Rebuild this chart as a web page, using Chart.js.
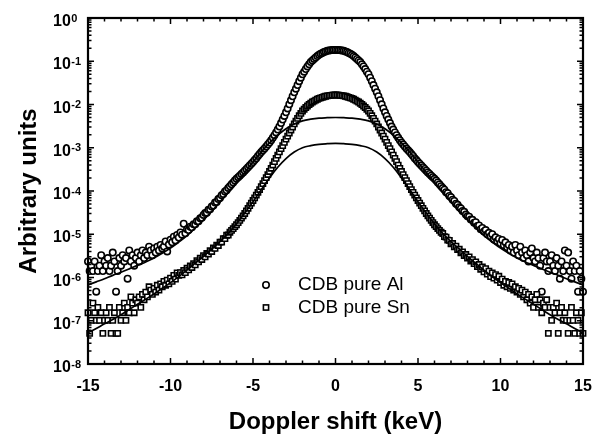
<!DOCTYPE html>
<html>
<head>
<meta charset="utf-8">
<script src="https://cdn.jsdelivr.net/npm/chart.js@4.4.1/dist/chart.umd.min.js"></script>
<style>
html,body{margin:0;padding:0;background:#fff;}
#wrap{width:600px;height:437px;position:relative;}
</style>
</head>
<body>
<div id="wrap"><canvas id="c" width="600" height="437"></canvas></div>
<script>
// ---- data ----
const energies = [
-15,-14.9,-14.8,-14.7,-14.6,-14.5,-14.4,-14.3,-14.2,-14.1,
-14,-13.9,-13.8,-13.7,-13.6,-13.5,-13.4,-13.3,-13.2,-13.1,
-13,-12.9,-12.8,-12.7,-12.6,-12.5,-12.4,-12.3,-12.2,-12.1,
-12,-11.9,-11.8,-11.7,-11.6,-11.5,-11.4,-11.3,-11.2,-11.1,
-11,-10.9,-10.8,-10.7,-10.6,-10.5,-10.4,-10.3,-10.2,-10.1,
-10,-9.9,-9.8,-9.7,-9.6,-9.5,-9.4,-9.3,-9.2,-9.1,
-9,-8.9,-8.8,-8.7,-8.6,-8.5,-8.4,-8.3,-8.2,-8.1,
-8,-7.9,-7.8,-7.7,-7.6,-7.5,-7.4,-7.3,-7.2,-7.1,
-7,-6.9,-6.8,-6.7,-6.6,-6.5,-6.4,-6.3,-6.2,-6.1,
-6,-5.9,-5.8,-5.7,-5.6,-5.5,-5.4,-5.3,-5.2,-5.1,
-5,-4.9,-4.8,-4.7,-4.6,-4.5,-4.4,-4.3,-4.2,-4.1,
-4,-3.9,-3.8,-3.7,-3.6,-3.5,-3.4,-3.3,-3.2,-3.1,
-3,-2.9,-2.8,-2.7,-2.6,-2.5,-2.4,-2.3,-2.2,-2.1,
-2,-1.9,-1.8,-1.7,-1.6,-1.5,-1.4,-1.3,-1.2,-1.1,
-1,-0.9,-0.8,-0.7,-0.6,-0.5,-0.4,-0.3,-0.2,-0.1,
0,0.1,0.2,0.3,0.4,0.5,0.6,0.7,0.8,0.9,
1,1.1,1.2,1.3,1.4,1.5,1.6,1.7,1.8,1.9,
2,2.1,2.2,2.3,2.4,2.5,2.6,2.7,2.8,2.9,
3,3.1,3.2,3.3,3.4,3.5,3.6,3.7,3.8,3.9,
4,4.1,4.2,4.3,4.4,4.5,4.6,4.7,4.8,4.9,
5,5.1,5.2,5.3,5.4,5.5,5.6,5.7,5.8,5.9,
6,6.1,6.2,6.3,6.4,6.5,6.6,6.7,6.8,6.9,
7,7.1,7.2,7.3,7.4,7.5,7.6,7.7,7.8,7.9,
8,8.1,8.2,8.3,8.4,8.5,8.6,8.7,8.8,8.9,
9,9.1,9.2,9.3,9.4,9.5,9.6,9.7,9.8,9.9,
10,10.1,10.2,10.3,10.4,10.5,10.6,10.7,10.8,10.9,
11,11.1,11.2,11.3,11.4,11.5,11.6,11.7,11.8,11.9,
12,12.1,12.2,12.3,12.4,12.5,12.6,12.7,12.8,12.9,
13,13.1,13.2,13.3,13.4,13.5,13.6,13.7,13.8,13.9,
14,14.1,14.2,14.3,14.4,14.5,14.6,14.7,14.8,14.9,
15];

const cdbAl = [
2.35e-6,1.41e-6,1.88e-6,1.41e-6,2.35e-6,4.7e-7,1.41e-6,1.88e-6,3.29e-6,1.41e-6,
2.35e-6,1.88e-6,2.82e-6,1.41e-6,1.88e-6,3.76e-6,2.35e-6,4.7e-7,1.41e-6,2.82e-6,
1.88e-6,3.29e-6,2.35e-6,2.82e-6,9.4e-7,4.23e-6,2.35e-6,3.29e-6,1.88e-6,2.82e-6,
3.76e-6,2.35e-6,3.29e-6,4.23e-6,2.82e-6,3.76e-6,3.29e-6,5.17e-6,4.23e-6,3.29e-6,
4.7e-6,3.76e-6,5.17e-6,4.23e-6,5.64e-6,4.7e-6,5.2e-6,6.8e-6,4.0e-6,5.8e-6,
7.5e-6,6.5e-6,8.8e-6,7.2e-6,9.6e-6,8.4e-6,1.1e-5,9.8e-6,1.75e-5,1.05e-5,
1.3e-5,1.25e-5,1.5e-5,1.45e-5,1.7e-5,1.7e-5,2.0e-5,2.0e-5,2.35e-5,2.4e-5,
2.8e-5,3.1e-5,3.15e-5,3.7e-5,3.8e-5,4.4e-5,4.6e-5,5.4e-5,5.6e-5,6.5e-5,
6.9e-5,8.0e-5,8.5e-5,9.7e-5,1.04e-4,1.18e-4,1.28e-4,1.43e-4,1.58e-4,1.74e-4,
1.91e-4,2.09e-4,2.26e-4,2.48e-4,2.69e-4,2.95e-4,3.24e-4,3.55e-4,3.89e-4,4.27e-4,
4.68e-4,5.19e-4,5.75e-4,6.46e-4,7.16e-4,7.94e-4,8.71e-4,9.66e-4,1.07e-3,1.19e-3,
1.32e-3,1.50e-3,1.70e-3,1.95e-3,2.26e-3,2.63e-3,3.09e-3,3.72e-3,4.47e-3,5.43e-3,
6.61e-3,8.13e-3,1.01e-2,1.26e-2,1.55e-2,1.91e-2,2.32e-2,2.82e-2,3.47e-2,4.17e-2,
5.01e-2,5.75e-2,6.61e-2,7.59e-2,8.51e-2,9.55e-2,1.04e-1,1.13e-1,1.22e-1,1.32e-1,
1.41e-1,1.49e-1,1.56e-1,1.63e-1,1.69e-1,1.74e-1,1.77e-1,1.79e-1,1.81e-1,1.82e-1,
1.82e-1,1.82e-1,1.81e-1,1.79e-1,1.77e-1,1.74e-1,1.69e-1,1.63e-1,1.56e-1,1.49e-1,
1.41e-1,1.32e-1,1.22e-1,1.13e-1,1.04e-1,9.55e-2,8.51e-2,7.59e-2,6.61e-2,5.75e-2,
5.01e-2,4.17e-2,3.47e-2,2.82e-2,2.32e-2,1.91e-2,1.55e-2,1.26e-2,1.01e-2,8.13e-3,
6.61e-3,5.43e-3,4.47e-3,3.72e-3,3.09e-3,2.63e-3,2.26e-3,1.95e-3,1.70e-3,1.50e-3,
1.32e-3,1.19e-3,1.07e-3,9.66e-4,8.71e-4,7.94e-4,7.16e-4,6.46e-4,5.75e-4,5.19e-4,
4.68e-4,4.27e-4,3.89e-4,3.55e-4,3.24e-4,2.95e-4,2.69e-4,2.48e-4,2.26e-4,2.09e-4,
1.91e-4,1.74e-4,1.58e-4,1.43e-4,1.29e-4,1.17e-4,1.07e-4,9.4e-5,8.9e-5,7.7e-5,
7.2e-5,6.3e-5,5.9e-5,5.1e-5,4.8e-5,4.2e-5,3.95e-5,3.45e-5,3.3e-5,2.85e-5,
2.6e-5,2.55e-5,2.2e-5,2.15e-5,1.85e-5,1.9e-5,1.55e-5,1.6e-5,1.3e-5,1.4e-5,
1.15e-5,1.25e-5,1.0e-5,1.08e-5,9.0e-6,1.0e-5,7.6e-6,8.5e-6,6.9e-6,7.8e-6,
6.2e-6,7.4e-6,5.6e-6,6.5e-6,5.0e-6,5.64e-6,4.23e-6,5.17e-6,3.76e-6,5.64e-6,
4.23e-6,3.29e-6,5.17e-6,3.76e-6,2.82e-6,4.23e-6,3.29e-6,2.35e-6,3.76e-6,4.7e-6,
2.82e-6,2.35e-6,3.76e-6,2.82e-6,1.88e-6,4.7e-7,2.82e-6,3.76e-6,2.35e-6,1.41e-6,
2.35e-6,3.29e-6,1.88e-6,1.41e-6,2.82e-6,1.88e-6,9.4e-7,2.35e-6,1.41e-6,4.23e-6,
1.88e-6,3.76e-6,1.41e-6,9.4e-7,2.35e-6,1.41e-6,1.88e-6,4.7e-7,1.41e-6,9.4e-7,
4.7e-7];

const cdbSn = [
1.53e-7,5.1e-8,1.02e-7,2.55e-7,1.53e-7,1.02e-7,2.04e-7,1.02e-7,1.53e-7,5.1e-8,
1.02e-7,1.53e-7,1.02e-7,2.04e-7,5.1e-8,1.02e-7,1.53e-7,5.1e-8,5.1e-8,2.04e-7,
1.02e-7,1.53e-7,2.55e-7,1.02e-7,2.04e-7,1.53e-7,3.57e-7,2.55e-7,1.53e-7,3.06e-7,
2.55e-7,3.57e-7,2.04e-7,4.08e-7,3.06e-7,4.59e-7,3.57e-7,6.12e-7,5.1e-7,4.08e-7,
5.61e-7,4.59e-7,6.63e-7,5.1e-7,7.14e-7,6.12e-7,8.16e-7,6.63e-7,8.67e-7,7.14e-7,
9.69e-7,8.16e-7,1.12e-6,9.18e-7,1.28e-6,1.12e-6,1.3e-6,1.15e-6,1.45e-6,1.3e-6,
1.65e-6,1.5e-6,1.85e-6,1.7e-6,2.1e-6,1.95e-6,2.45e-6,2.3e-6,2.8e-6,2.6e-6,
3.2e-6,3.0e-6,3.6e-6,3.5e-6,4.2e-6,4.0e-6,4.8e-6,4.7e-6,5.6e-6,5.5e-6,
6.6e-6,6.6e-6,7.9e-6,7.9e-6,9.5e-6,9.6e-6,1.11e-5,1.23e-5,1.35e-5,1.50e-5,
1.66e-5,1.86e-5,2.09e-5,2.37e-5,2.66e-5,3.02e-5,3.47e-5,3.98e-5,4.57e-5,5.25e-5,
6.03e-5,6.92e-5,8.04e-5,9.33e-5,1.08e-4,1.26e-4,1.48e-4,1.74e-4,2.04e-4,2.40e-4,
2.82e-4,3.35e-4,3.98e-4,4.79e-4,5.69e-4,6.76e-4,8.04e-4,9.55e-4,1.12e-3,1.33e-3,
1.58e-3,1.86e-3,2.19e-3,2.57e-3,3.02e-3,3.55e-3,4.12e-3,4.79e-3,5.50e-3,6.24e-3,
7.08e-3,7.76e-3,8.51e-3,9.23e-3,1.00e-2,1.07e-2,1.14e-2,1.20e-2,1.26e-2,1.32e-2,
1.38e-2,1.42e-2,1.46e-2,1.51e-2,1.55e-2,1.58e-2,1.61e-2,1.63e-2,1.65e-2,1.66e-2,
1.66e-2,1.66e-2,1.65e-2,1.63e-2,1.61e-2,1.58e-2,1.55e-2,1.51e-2,1.46e-2,1.42e-2,
1.38e-2,1.32e-2,1.26e-2,1.20e-2,1.14e-2,1.07e-2,1.00e-2,9.23e-3,8.51e-3,7.76e-3,
7.08e-3,6.24e-3,5.50e-3,4.79e-3,4.12e-3,3.55e-3,3.02e-3,2.57e-3,2.19e-3,1.86e-3,
1.58e-3,1.33e-3,1.12e-3,9.55e-4,8.04e-4,6.76e-4,5.69e-4,4.79e-4,3.98e-4,3.35e-4,
2.82e-4,2.40e-4,2.04e-4,1.74e-4,1.48e-4,1.26e-4,1.08e-4,9.33e-5,8.04e-5,6.92e-5,
6.03e-5,5.25e-5,4.57e-5,3.98e-5,3.47e-5,3.02e-5,2.66e-5,2.37e-5,2.09e-5,1.86e-5,
1.66e-5,1.50e-5,1.35e-5,1.23e-5,1.11e-5,1.04e-5,8.8e-6,8.6e-6,7.3e-6,7.2e-6,
6.0e-6,6.1e-6,5.1e-6,5.3e-6,4.4e-6,4.5e-6,3.7e-6,3.9e-6,3.2e-6,3.4e-6,
2.8e-6,3.0e-6,2.4e-6,2.6e-6,2.1e-6,2.3e-6,1.8e-6,2.0e-6,1.55e-6,1.75e-6,
1.35e-6,1.6e-6,1.2e-6,1.4e-6,1.05e-6,1.28e-6,9.69e-7,1.17e-6,8.67e-7,1.07e-6,
7.65e-7,9.18e-7,6.63e-7,8.16e-7,6.12e-7,7.65e-7,5.61e-7,7.14e-7,5.1e-7,6.12e-7,
4.59e-7,5.61e-7,4.08e-7,5.1e-7,3.57e-7,4.59e-7,3.06e-7,4.08e-7,2.55e-7,3.57e-7,
2.04e-7,3.06e-7,4.08e-7,2.04e-7,3.06e-7,1.53e-7,2.55e-7,2.04e-7,3.06e-7,5.1e-8,
2.04e-7,1.02e-7,2.04e-7,1.53e-7,2.55e-7,5.1e-8,1.53e-7,2.04e-7,1.02e-7,1.53e-7,
1.02e-7,5.1e-8,1.02e-7,2.04e-7,1.02e-7,5.1e-8,1.53e-7,1.02e-7,5.1e-8,1.53e-7,
5.1e-8];

const fitEnergies = [
-15,-14.5,-14,-13.5,-13,-12.5,-12,-11.5,-11,-10.5,-10,-9.5,-9,-8.5,-8,-7.5,
-7,-6.5,-6,-5.5,-5,-4.5,-4,-3.5,-3,-2.5,-2,-1.5,-1,-0.5,0,
0.5,1,1.5,2,2.5,3,3.5,4,4.5,5,5.5,6,6.5,7,7.5,8,8.5,9,9.5,10,10.5,11,11.5,12,12.5,13,13.5,14,14.5,15];

const fitUpper = [
6.76e-7,7.94e-7,9.33e-7,1.12e-6,1.32e-6,1.58e-6,1.91e-6,2.29e-6,2.82e-6,3.63e-6,
4.79e-6,6.61e-6,9.33e-6,1.41e-5,2.14e-5,3.39e-5,5.62e-5,9.33e-5,1.58e-4,2.69e-4,
4.68e-4,7.94e-4,1.29e-3,1.95e-3,2.75e-3,3.55e-3,4.17e-3,4.57e-3,4.84e-3,4.95e-3,5.01e-3,
4.95e-3,4.84e-3,4.57e-3,4.17e-3,3.55e-3,2.75e-3,1.95e-3,1.29e-3,7.94e-4,4.68e-4,
2.69e-4,1.58e-4,9.33e-5,5.62e-5,3.39e-5,2.14e-5,1.41e-5,9.33e-6,6.61e-6,4.79e-6,
3.63e-6,2.82e-6,2.29e-6,1.91e-6,1.58e-6,1.32e-6,1.12e-6,9.33e-7,7.94e-7,6.76e-7];

const fitLower = [
5.25e-8,6.61e-8,8.51e-8,1.07e-7,1.38e-7,1.82e-7,2.40e-7,3.16e-7,4.17e-7,5.62e-7,
7.59e-7,1.05e-6,1.48e-6,2.14e-6,3.09e-6,4.57e-6,6.76e-6,1.05e-5,1.74e-5,3.09e-5,
5.62e-5,1.07e-4,2.00e-4,3.55e-4,5.62e-4,7.94e-4,1.00e-3,1.12e-3,1.20e-3,1.24e-3,1.26e-3,
1.24e-3,1.20e-3,1.12e-3,1.00e-3,7.94e-4,5.62e-4,3.55e-4,2.00e-4,1.07e-4,5.62e-5,
3.09e-5,1.74e-5,1.05e-5,6.76e-6,4.57e-6,3.09e-6,2.14e-6,1.48e-6,1.05e-6,7.59e-7,
5.62e-7,4.17e-7,3.16e-7,2.40e-7,1.82e-7,1.38e-7,1.07e-7,8.51e-8,6.61e-8,5.25e-8];

const xTickLabels = [-15,-10,-5,0,5,10,15];
const yTickValues = [1,1e-1,1e-2,1e-3,1e-4,1e-5,1e-6,1e-7,1e-8];
const yTickExponents = ['0','-1','-2','-3','-4','-5','-6','-7','-8'];
const legendLabels = ['CDB pure Al','CDB pure Sn'];
const xTitle = 'Doppler shift (keV)';
const yTitle = 'Arbitrary units';

// ---- build datasets ----
const pts = (xs, ys) => xs.map((x, i) => ({x: x, y: ys[i]}));
const FONT = '"Liberation Sans", Arial, Helvetica, sans-serif';

const decor = {
  id: 'decor',
  afterDatasetsDraw(chart) {
    const {ctx, chartArea: a, scales: {x, y}} = chart;
    ctx.save();
    ctx.strokeStyle = '#000';
    ctx.fillStyle = '#000';
    ctx.lineWidth = 1.5;
    ctx.beginPath();
    for (let v = -15; v <= 15; v++) {
      const px = x.getPixelForValue(v);
      const len = (v % 5 === 0) ? 6 : 3.5;
      ctx.moveTo(px, a.bottom); ctx.lineTo(px, a.bottom - len);
      ctx.moveTo(px, a.top); ctx.lineTo(px, a.top + len);
    }
    for (let e = -8; e <= 0; e++) {
      for (let m = 1; m <= 9; m++) {
        if (e === 0 && m > 1) break;
        const py = y.getPixelForValue(m * Math.pow(10, e));
        const len = (m === 1) ? 6 : 3.5;
        ctx.moveTo(a.left, py); ctx.lineTo(a.left + len, py);
        ctx.moveTo(a.right, py); ctx.lineTo(a.right - len, py);
      }
    }
    ctx.stroke();
    ctx.lineWidth = 2.2;
    ctx.strokeRect(a.left, a.top, a.right - a.left, a.bottom - a.top);

    // x tick labels
    ctx.font = 'bold 16px ' + FONT;
    ctx.textAlign = 'center';
    ctx.textBaseline = 'alphabetic';
    xTickLabels.forEach(v => ctx.fillText(String(v), x.getPixelForValue(v), 391));

    // y tick labels 10^n
    ctx.textAlign = 'left';
    yTickValues.forEach((v, i) => {
      const py = y.getPixelForValue(v);
      ctx.font = 'bold 16px ' + FONT;
      ctx.fillText('10', 53, py + 8);
      const w = ctx.measureText('10').width;
      ctx.font = 'bold 11px ' + FONT;
      ctx.fillText(yTickExponents[i], 53 + w + 0.5, py + 3.5);
    });

    // axis titles
    ctx.font = 'bold 24px ' + FONT;
    ctx.textAlign = 'center';
    ctx.fillText(xTitle, (a.left + a.right) / 2, 429);
    ctx.save();
    ctx.translate(36, (a.top + a.bottom) / 2);
    ctx.rotate(-Math.PI / 2);
    ctx.fillText(yTitle, 0, 0);
    ctx.restore();

    // legend
    ctx.lineWidth = 1.6;
    ctx.fillStyle = '#fff';
    ctx.beginPath(); ctx.arc(266, 285, 3.2, 0, Math.PI * 2); ctx.fill(); ctx.stroke();
    ctx.fillRect(263.4, 304.9, 5.2, 5.2); ctx.strokeRect(263.4, 304.9, 5.2, 5.2);
    ctx.fillStyle = '#000';
    ctx.font = '19px ' + FONT;
    ctx.textAlign = 'left';
    ctx.textBaseline = 'middle';
    ctx.fillText(legendLabels[0], 298, 285);
    ctx.fillText(legendLabels[1], 298, 307.5);
    ctx.restore();
  }
};

new Chart(document.getElementById('c'), {
  type: 'scatter',
  data: {
    datasets: [
      {label: 'fit upper', data: pts(fitEnergies, fitUpper), showLine: true, pointRadius: 0,
       borderColor: '#000', borderWidth: 1.7, tension: 0.4, order: 0, clip: false},
      {label: 'fit lower', data: pts(fitEnergies, fitLower), showLine: true, pointRadius: 0,
       borderColor: '#000', borderWidth: 1.7, tension: 0.4, order: 0, clip: false},
      {label: legendLabels[0], data: pts(energies, cdbAl), pointStyle: 'circle', pointRadius: 3.2,
       pointBorderWidth: 1.6, pointBorderColor: '#000', pointBackgroundColor: '#fff', order: 2, clip: false},
      {label: legendLabels[1], data: pts(energies, cdbSn), pointStyle: 'rect', pointRadius: 3.7,
       pointBorderWidth: 1.6, pointBorderColor: '#000', pointBackgroundColor: '#fff', order: 1, clip: false}
    ]
  },
  options: {
    responsive: false,
    animation: false,
    devicePixelRatio: 1,
    layout: {padding: {left: 88, right: 17, top: 18, bottom: 73}},
    plugins: {legend: {display: false}, tooltip: {enabled: false}},
    scales: {
      x: {type: 'linear', min: -15, max: 15, display: false},
      y: {type: 'logarithmic', min: 1e-8, max: 1, display: false}
    }
  },
  plugins: [decor]
});
</script>
</body>
</html>
